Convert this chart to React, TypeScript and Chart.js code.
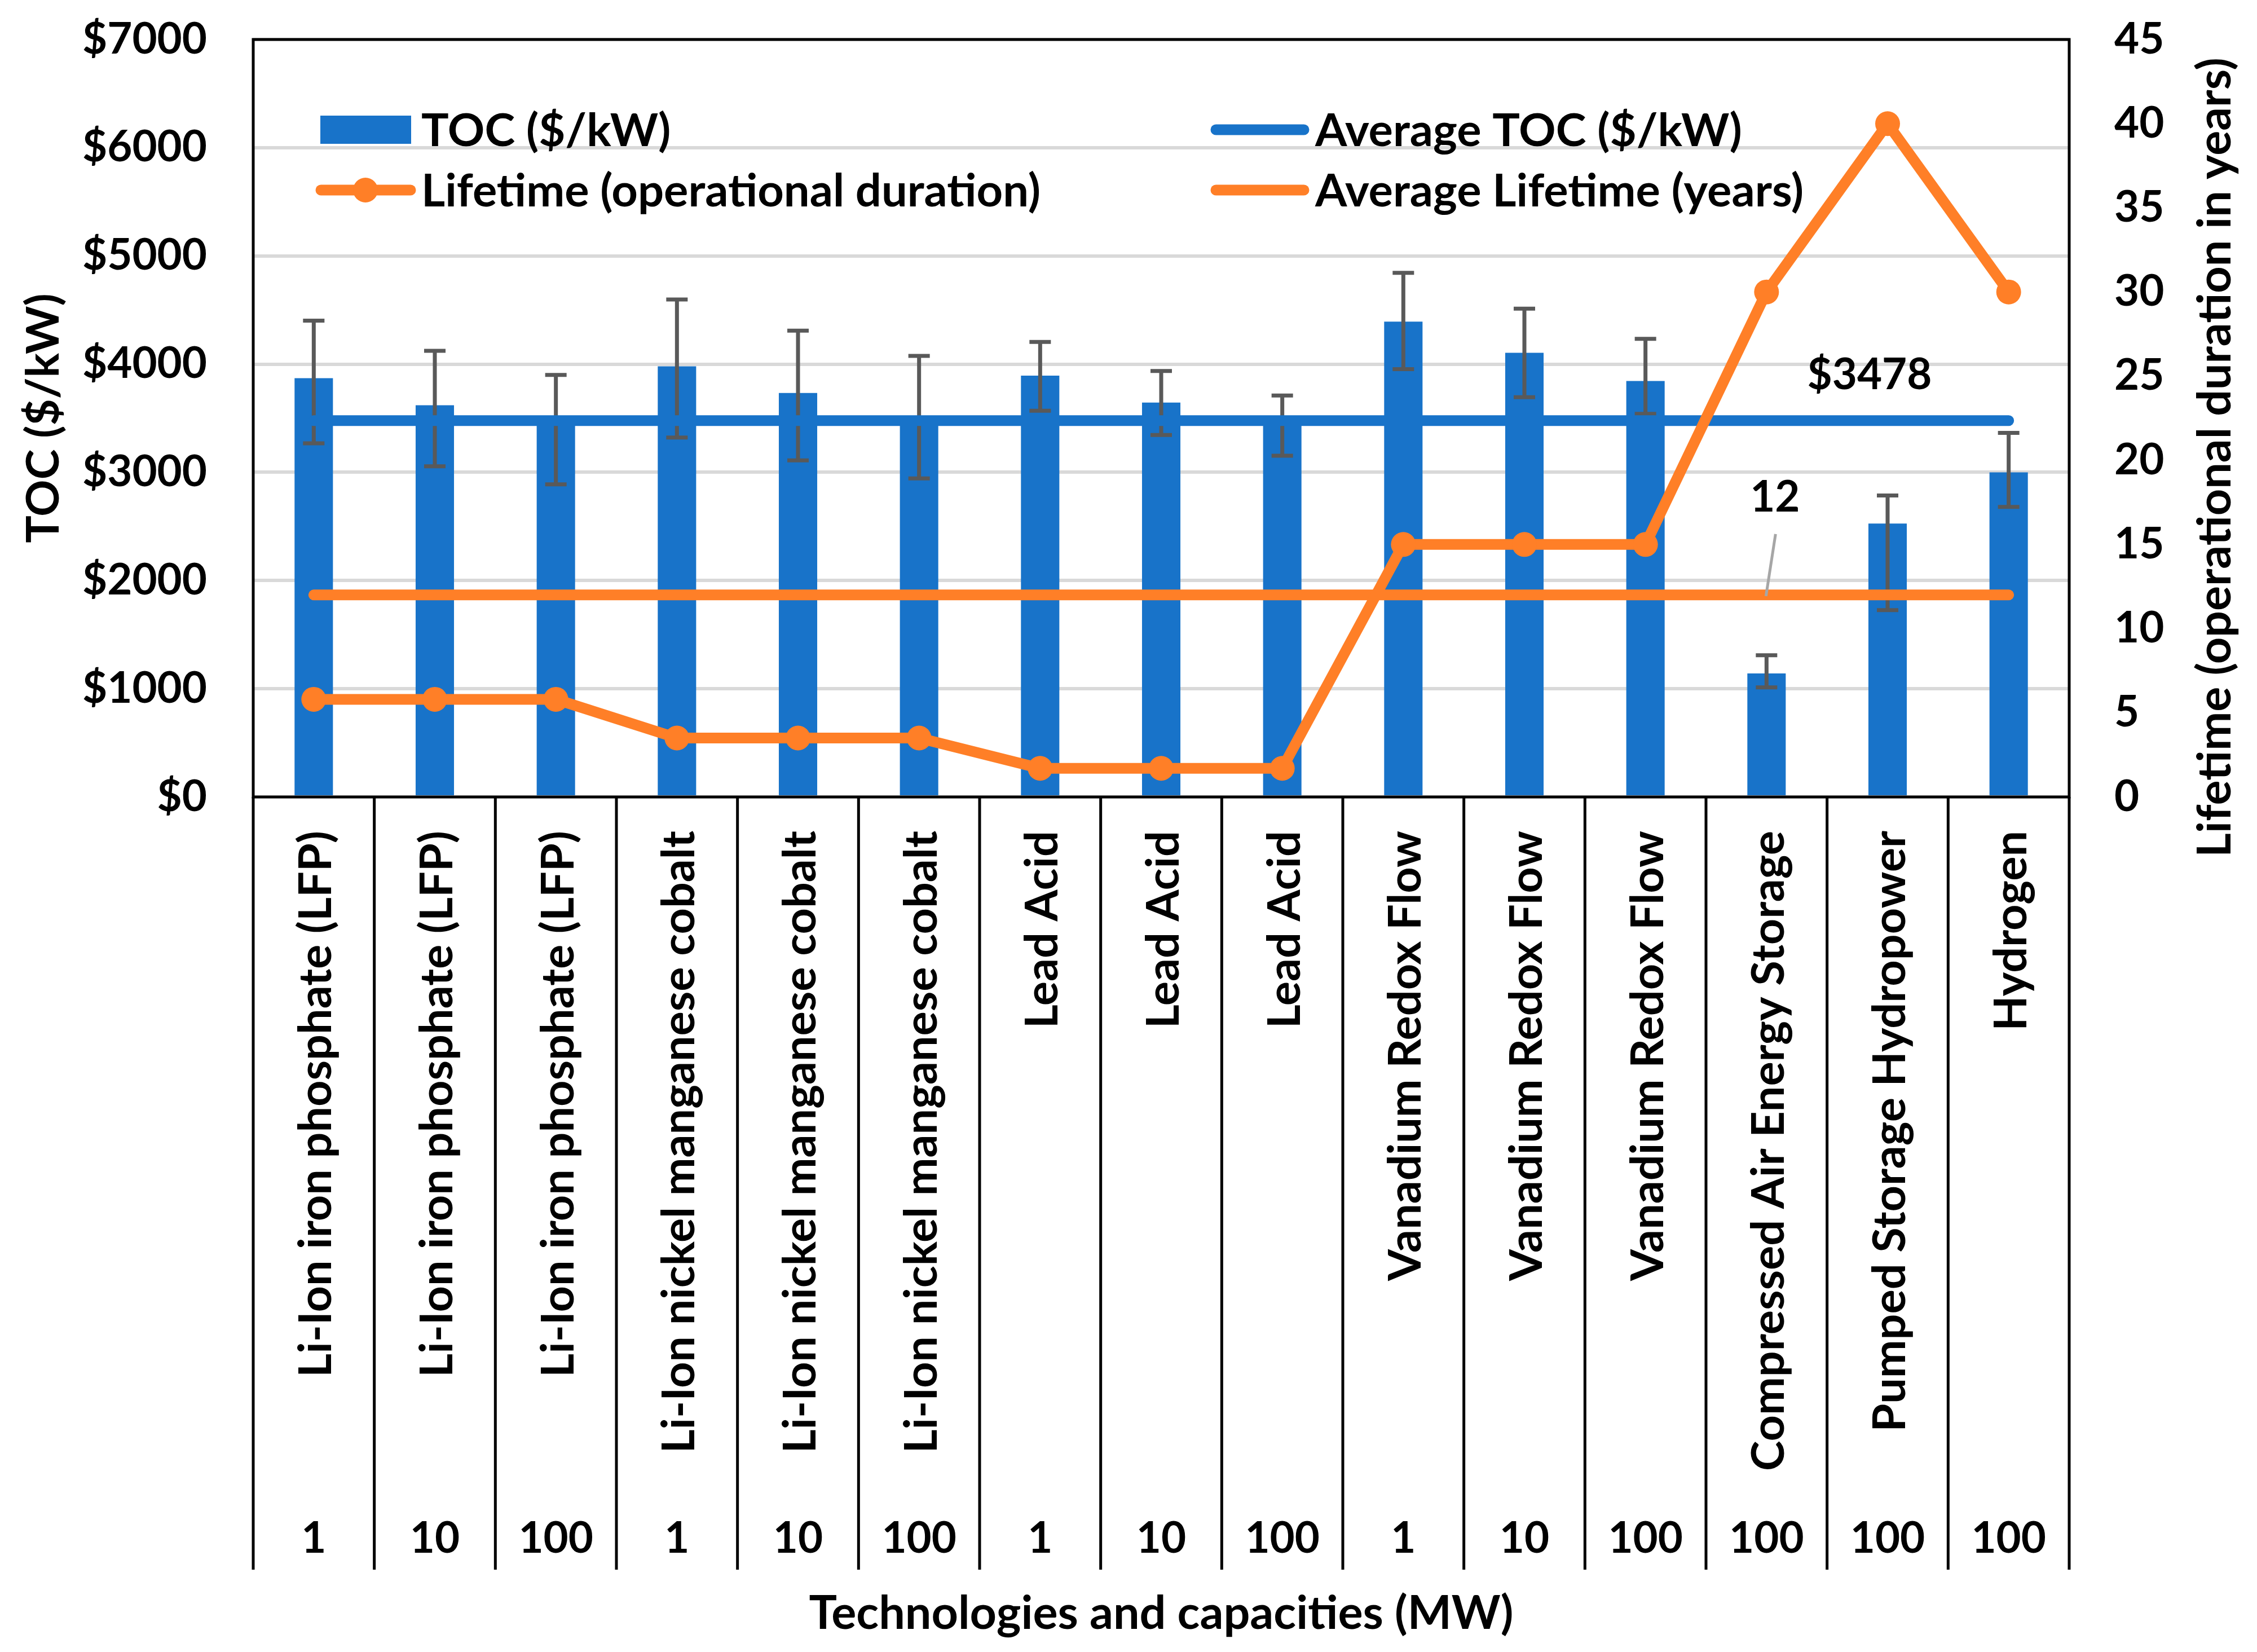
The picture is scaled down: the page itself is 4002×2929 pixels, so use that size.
import React, { useEffect, useRef } from 'react';
import { Chart, registerables } from 'chart.js';

Chart.register(...registerables);

// ---------------- data ----------------
const technologies = [
  'Li-Ion iron phosphate (LFP)',
  'Li-Ion iron phosphate (LFP)',
  'Li-Ion iron phosphate (LFP)',
  'Li-Ion nickel manganese cobalt',
  'Li-Ion nickel manganese cobalt',
  'Li-Ion nickel manganese cobalt',
  'Lead Acid',
  'Lead Acid',
  'Lead Acid',
  'Vanadium Redox Flow',
  'Vanadium Redox Flow',
  'Vanadium Redox Flow',
  'Compressed Air Energy Storage',
  'Pumped Storage Hydropower',
  'Hydrogen',
];
const capacities = ['1', '10', '100', '1', '10', '100', '1', '10', '100', '1', '10', '100', '100', '100', '100'];
const tocValues = [3870, 3620, 3440, 3980, 3733, 3500, 3894, 3644, 3450, 4393, 4104, 3844, 1141, 2526, 3000];
const tocErrorHigh = [4402, 4123, 3900, 4597, 4309, 4076, 4205, 3936, 3710, 4843, 4513, 4234, 1310, 2786, 3365];
const tocErrorLow = [3268, 3056, 2889, 3321, 3111, 2944, 3569, 3345, 3153, 3954, 3694, 3540, 1012, 1727, 2681];
const lifetimeYears = [5.8, 5.8, 5.8, 3.5, 3.5, 3.5, 1.7, 1.7, 1.7, 15, 15, 15, 30, 40, 30];
const averageToc = 3478;
const averageLifetime = 12;
const tocMin = 0;
const tocMax = 7000;
const tocStep = 1000;
const lifeMin = 0;
const lifeMax = 45;
const lifeStep = 5;

const legendLabels = ['TOC ($/kW)', 'Lifetime (operational duration)', 'Average TOC ($/kW)', 'Average Lifetime (years)'];
const leftTitle = 'TOC ($/kW)';
const rightTitle = 'Lifetime (operational duration in years)';
const xTitle = 'Technologies and capacities (MW)';

// ---------------- style ----------------
const BLUE = '#1873C9';
const ORANGE = '#FF7F27';
const ERR = '#595959';
const GRID = '#D9D9D9';
const FAMILY = 'Lato, "Noto Sans", sans-serif';
const CAP = 0.72;
const W = 4002;
const H = 2929;

export default function App() {
  const ref = useRef<HTMLCanvasElement>(null);

  useEffect(() => {
    const canvas = ref.current;
    if (!canvas) return;
    const mctx = document.createElement('canvas').getContext('2d')!;
    const fit = (text: string, width: number) => {
      mctx.font = `bold 100px ${FAMILY}`;
      return (100 * width) / mctx.measureText(text).width;
    };
    const tickSize = fit('$7000', 221);
    const legendSize =
      (fit(legendLabels[0], 423) + fit(legendLabels[1], 1133) + fit(legendLabels[2], 741) + fit(legendLabels[3], 895)) / 4;
    const catSize = fit(technologies[0], 969);
    const xTitleSize = fit(xTitle, 1249);
    const rTitleSize = fit(rightTitle, 1418);
    const fnt = (s: number) => `bold ${s}px ${FAMILY}`;

    const hText = (ctx: CanvasRenderingContext2D, s: string, x: number, yc: number, size: number, align: CanvasTextAlign) => {
      ctx.font = fnt(size);
      ctx.textAlign = align;
      ctx.textBaseline = 'alphabetic';
      ctx.fillText(s, x, yc + (CAP * size) / 2);
    };
    const vText = (ctx: CanvasRenderingContext2D, s: string, xc: number, y: number, size: number, align: CanvasTextAlign) => {
      ctx.save();
      ctx.translate(xc, y);
      ctx.rotate(-Math.PI / 2);
      ctx.font = fnt(size);
      ctx.textAlign = align;
      ctx.textBaseline = 'alphabetic';
      ctx.fillText(s, 0, (CAP * size) / 2);
      ctx.restore();
    };

    const decor = {
      id: 'decor',
      afterDatasetDraw(chart: any, args: any) {
        if (args.index !== 0) return;
        const ctx: CanvasRenderingContext2D = chart.ctx;
        const y = chart.scales.y;
        ctx.save();
        ctx.strokeStyle = ERR;
        ctx.lineWidth = 7;
        ctx.lineCap = 'butt';
        args.meta.data.forEach((bar: any, i: number) => {
          const x = bar.x;
          const top = y.getPixelForValue(tocErrorHigh[i]);
          const bot = y.getPixelForValue(tocErrorLow[i]);
          ctx.beginPath();
          ctx.moveTo(x, top);
          ctx.lineTo(x, bot);
          ctx.moveTo(x - 19, top);
          ctx.lineTo(x + 19, top);
          ctx.moveTo(x - 19, bot);
          ctx.lineTo(x + 19, bot);
          ctx.stroke();
        });
        ctx.restore();
      },
      afterDraw(chart: any) {
        const ctx: CanvasRenderingContext2D = chart.ctx;
        const { left, right, top, bottom } = chart.chartArea;
        const xs = chart.scales.x;
        const ys = chart.scales.y;
        const y1 = chart.scales.y1;
        ctx.save();
        ctx.fillStyle = '#000';
        ctx.strokeStyle = '#000';
        // frame
        ctx.lineWidth = 5;
        ctx.strokeRect(left, top, right - left, bottom - top);
        // category separators
        const half = (xs.getPixelForValue(1) - xs.getPixelForValue(0)) / 2;
        const sepBottom = 2783;
        ctx.beginPath();
        for (let i = 0; i <= technologies.length; i++) {
          const bx = i < technologies.length ? xs.getPixelForValue(i) - half : xs.getPixelForValue(technologies.length - 1) + half;
          ctx.moveTo(bx, bottom);
          ctx.lineTo(bx, sepBottom);
        }
        ctx.stroke();
        // category labels and capacities
        technologies.forEach((t, i) => {
          const cx = xs.getPixelForValue(i);
          vText(ctx, t, cx + 2, bottom + 60, catSize, 'right');
          hText(ctx, capacities[i], cx, 2726, tickSize, 'center');
        });
        // axis titles
        hText(ctx, xTitle, (left + right) / 2, 2858, xTitleSize, 'center');
        vText(ctx, leftTitle, 75, (top + bottom) / 2, legendSize, 'center');
        vText(ctx, rightTitle, 3925, 811, rTitleSize, 'center');

        // legend
        const row1 = 230;
        const row2 = 337;
        ctx.fillStyle = BLUE;
        ctx.fillRect(568, row1 - 25, 161, 50);
        ctx.lineCap = 'round';
        ctx.lineWidth = 19;
        ctx.strokeStyle = ORANGE;
        ctx.beginPath();
        ctx.moveTo(569, row2);
        ctx.lineTo(728, row2);
        ctx.stroke();
        ctx.fillStyle = ORANGE;
        ctx.beginPath();
        ctx.arc(648, row2, 22, 0, Math.PI * 2);
        ctx.fill();
        ctx.strokeStyle = BLUE;
        ctx.beginPath();
        ctx.moveTo(2156, row1);
        ctx.lineTo(2312, row1);
        ctx.stroke();
        ctx.strokeStyle = ORANGE;
        ctx.beginPath();
        ctx.moveTo(2156, row2);
        ctx.lineTo(2312, row2);
        ctx.stroke();
        ctx.fillStyle = '#000';
        hText(ctx, legendLabels[0], 747, row1, legendSize, 'left');
        hText(ctx, legendLabels[1], 747, row2, legendSize, 'left');
        hText(ctx, legendLabels[2], 2332, row1, legendSize, 'left');
        hText(ctx, legendLabels[3], 2332, row2, legendSize, 'left');

        // annotations
        const avgTocY = ys.getPixelForValue(averageToc);
        hText(ctx, '$' + averageToc, xs.getPixelForValue(13) - 32, avgTocY - 83, tickSize, 'center');
        const avgLifeY = y1.getPixelForValue(averageLifetime);
        const cx12 = xs.getPixelForValue(12);
        hText(ctx, String(averageLifetime), cx12 + 15, avgLifeY - 175, tickSize, 'center');
        ctx.strokeStyle = '#A6A6A6';
        ctx.lineWidth = 5;
        ctx.lineCap = 'butt';
        ctx.beginPath();
        ctx.moveTo(cx12 + 16, avgLifeY - 108);
        ctx.lineTo(cx12 - 1, avgLifeY + 2);
        ctx.stroke();
        ctx.restore();
      },
    };

    const tickFont = { family: FAMILY, weight: 'bold' as const, size: tickSize };

    const chart = new Chart(canvas, {
      type: 'bar',
      data: {
        labels: technologies,
        datasets: [
          {
            type: 'bar',
            label: legendLabels[0],
            data: tocValues,
            backgroundColor: BLUE,
            borderWidth: 0,
            barPercentage: 0.317,
            categoryPercentage: 1,
            yAxisID: 'y',
            order: 4,
          },
          {
            type: 'line',
            label: legendLabels[2],
            data: technologies.map(() => averageToc),
            borderColor: BLUE,
            borderWidth: 19,
            borderCapStyle: 'round',
            pointRadius: 0,
            pointHoverRadius: 0,
            yAxisID: 'y',
            order: 3,
          },
          {
            type: 'line',
            label: legendLabels[3],
            data: technologies.map(() => averageLifetime),
            borderColor: ORANGE,
            borderWidth: 19,
            borderCapStyle: 'round',
            pointRadius: 0,
            pointHoverRadius: 0,
            yAxisID: 'y1',
            order: 2,
          },
          {
            type: 'line',
            label: legendLabels[1],
            data: lifetimeYears,
            borderColor: ORANGE,
            borderWidth: 19,
            borderJoinStyle: 'round',
            borderCapStyle: 'round',
            pointRadius: 22,
            pointHoverRadius: 22,
            pointBackgroundColor: ORANGE,
            pointBorderColor: ORANGE,
            pointBorderWidth: 0,
            yAxisID: 'y1',
            order: 1,
          },
        ] as any,
      },
      options: {
        responsive: false,
        animation: false,
        devicePixelRatio: 1,
        events: [],
        layout: { padding: { top: 70, left: 0, right: 0, bottom: 0 } },
        plugins: {
          legend: { display: false },
          tooltip: { enabled: false },
          title: { display: false },
        },
        scales: {
          x: {
            type: 'category',
            offset: true,
            grid: { display: false, drawTicks: false },
            border: { display: false },
            ticks: { display: false },
            afterFit: (s: any) => {
              s.height = H - 1413;
              s.paddingLeft = 0;
              s.paddingRight = 0;
            },
          },
          y: {
            position: 'left',
            min: tocMin,
            max: tocMax,
            ticks: {
              stepSize: tocStep,
              callback: (v: any) => '$' + v,
              font: tickFont,
              color: '#000',
              padding: 82,
            },
            grid: { color: GRID, lineWidth: 6, drawTicks: false },
            border: { display: false },
            afterFit: (s: any) => {
              s.width = 449;
              s.paddingTop = 0;
              s.paddingBottom = 0;
            },
          },
          y1: {
            position: 'right',
            min: lifeMin,
            max: lifeMax,
            ticks: {
              stepSize: lifeStep,
              font: tickFont,
              color: '#000',
              padding: 80,
            },
            grid: { display: false, drawTicks: false },
            border: { display: false },
            afterFit: (s: any) => {
              s.width = W - 3669;
              s.paddingTop = 0;
              s.paddingBottom = 0;
            },
          },
        } as any,
      },
      plugins: [decor],
    });

    return () => {
      chart.destroy();
    };
  }, []);

  return (
    <div style={{ position: 'fixed', left: 0, top: 0, width: W, height: H, background: '#fff' }}>
      <canvas ref={ref} width={W} height={H} style={{ display: 'block', width: W, height: H }} />
    </div>
  );
}
